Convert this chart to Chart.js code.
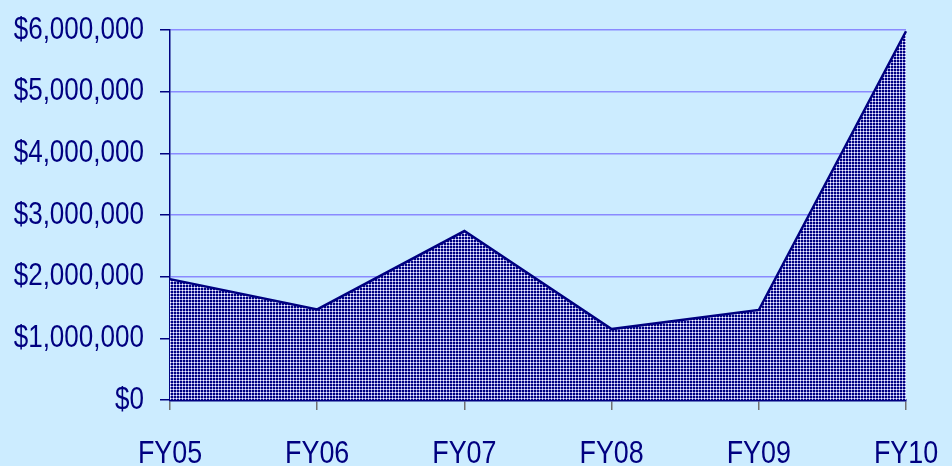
<!DOCTYPE html>
<html>
<head>
<meta charset="utf-8">
<script src="https://cdn.jsdelivr.net/npm/chart.js@4.4.1/dist/chart.umd.min.js"></script>
<style>
  html, body { margin: 0; padding: 0; background: #CCECFF; }
  #wrap { width: 952px; height: 466px; }
</style>
</head>
<body>
<div id="wrap"><canvas id="chart" width="952" height="466"></canvas></div>
<script>
// fiscal years and yearly totals (dollars)
const years = ['FY05', 'FY06', 'FY07', 'FY08', 'FY09', 'FY10'];
const totals = [1960000, 1470000, 2740000, 1150000, 1460000, 5980000];
const yTicks = [0, 1000000, 2000000, 3000000, 4000000, 5000000, 6000000];

const NAVY = '#000080';
const FONT = "'Liberation Sans', Arial, sans-serif";
const SQUEEZE = 0.84; // the labels in the original are horizontally narrow

// small dotted tile for the area fill
function makePattern() {
    var c = document.createElement('canvas');
    c.width = 3; c.height = 3;
    var g = c.getContext('2d');
    g.fillStyle = NAVY;
    g.fillRect(0, 0, 3, 3);
    g.fillStyle = '#9a9ade';
    g.fillRect(2, 0, 1, 2);
    g.fillRect(0, 2, 2, 1);
    g.fillStyle = '#ffffff';
    g.fillRect(2, 2, 1, 1);
    return g.createPattern(c, 'repeat');
}

const money = v => '$' + v.toLocaleString('en-US');

// narrow the tick labels: every label is placed with ctx.translate, so
// squeeze horizontally right after each translate
const narrowLabels = {
    id: 'narrowLabels',
    afterUpdate(chart) {
        Object.values(chart.scales).forEach(function (s) {
            if (s._narrowed) return;
            s._narrowed = true;
            var orig = s.drawLabels;
            s.drawLabels = function (area) {
                var ctx = this.ctx;
                var tr = ctx.translate;
                ctx.translate = function (x, y) {
                    tr.call(ctx, x, y);
                    ctx.scale(SQUEEZE, 1);
                };
                try { orig.call(this, area); } finally { ctx.translate = tr; }
            };
        });
    }
};

new Chart(document.getElementById('chart'), {
    type: 'line',
    data: {
        labels: years,
        datasets: [{
            data: totals,
            fill: 'origin',
            backgroundColor: makePattern(),
            borderColor: NAVY,
            borderWidth: 2.5,
            pointRadius: 0,
            tension: 0
        }]
    },
    plugins: [narrowLabels],
    options: {
        responsive: false,
        animation: false,
        layout: { padding: { top: 30, right: 46, left: 0, bottom: 0 } },
        plugins: { legend: { display: false }, tooltip: { enabled: false } },
        scales: {
            x: {
                offset: false,
                grid: { drawOnChartArea: false, tickLength: 10, tickColor: '#707070', lineWidth: 1.5 },
                border: { color: NAVY, width: 2.5 },
                ticks: { color: NAVY, font: { family: FONT, size: 32 }, padding: 25, maxRotation: 0 },
                afterFit: s => { s.height = 66; s.paddingLeft = 0; s.paddingRight = 0; }
            },
            y: {
                min: 0,
                max: 6000000,
                afterBuildTicks: s => { s.ticks = yTicks.map(v => ({ value: v })); },
                grid: { color: '#8a8aff', lineWidth: 1.5, tickLength: 10, tickColor: NAVY },
                border: { color: NAVY, width: 1.5 },
                ticks: { color: NAVY, font: { family: FONT, size: 31 }, padding: 16, callback: v => money(v) },
                afterFit: s => { s.width = 170; s.paddingTop = 0; s.paddingBottom = 0; }
            }
        }
    }
});
</script>
</body>
</html>
